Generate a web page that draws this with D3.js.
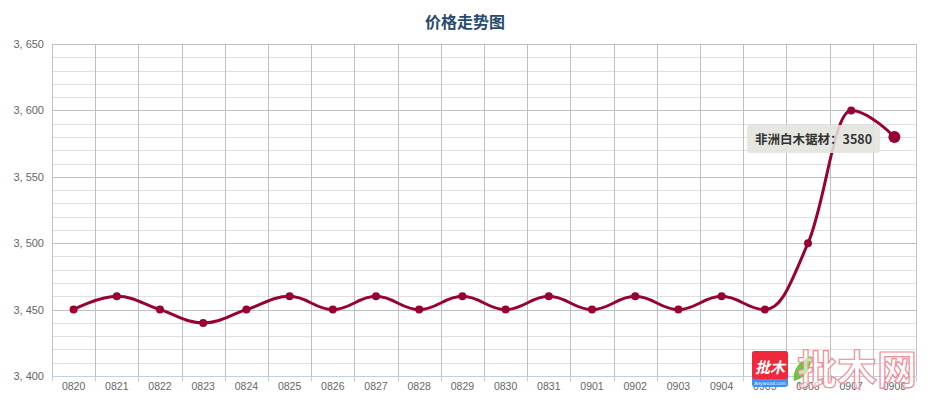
<!DOCTYPE html>
<html>
<head>
<meta charset="utf-8">
<script src="https://cdn.jsdelivr.net/npm/d3@7"></script>
<style>
html,body{margin:0;padding:0;background:#fff;}
svg{display:block;}
</style>
</head>
<body>
<div id="chart"></div>
<script>
const title = "价格走势图";
const seriesName = "非洲白木锯材";
const categories = ["0820","0821","0822","0823","0824","0825","0826","0827","0828","0829","0830","0831","0901","0902","0903","0904","0905","0906","0907","0908"];
const prices = [3450,3460,3450,3440,3450,3460,3450,3460,3450,3460,3450,3460,3450,3460,3450,3460,3450,3500,3600,3580];
const yTicks = [3400,3450,3500,3550,3600,3650];
const yMinorTicks = d3.range(3400,3651,10);
const hoverIndex = 19;

const W = 939, H = 403;
const margin = {left:52, right:23, top:44, bottom:27};
const svg = d3.select("#chart").append("svg").attr("width",W).attr("height",H);

const x = d3.scaleBand().domain(categories).range([margin.left, W - margin.right]);
const y = d3.scaleLinear().domain([3400,3650]).range([H - margin.bottom, margin.top]);

// title
svg.append("text").attr("x", 465).attr("y", 28).attr("text-anchor","middle")
  .attr("font-family","'Noto Sans CJK SC', sans-serif").attr("font-weight","bold")
  .attr("font-size",16).attr("fill","#274b6d").text(title);

// minor horizontal grid
svg.append("g").selectAll("line").data(yMinorTicks.filter(v=>v%50!==0)).join("line")
  .attr("x1", margin.left).attr("x2", W-margin.right)
  .attr("y1", d=>Math.round(y(d))+0.5).attr("y2", d=>Math.round(y(d))+0.5)
  .attr("stroke","#e0e0e0").attr("stroke-width",1);
// major horizontal grid
svg.append("g").selectAll("line").data(yTicks.filter(v=>v!==3400)).join("line")
  .attr("x1", margin.left).attr("x2", W-margin.right)
  .attr("y1", d=>Math.round(y(d))+0.5).attr("y2", d=>Math.round(y(d))+0.5)
  .attr("stroke","#c0c0c0").attr("stroke-width",1);
// vertical grid
const vlines = categories.map(c=>x(c)).concat([W-margin.right]);
svg.append("g").selectAll("line").data(vlines).join("line")
  .attr("x1", d=>Math.round(d)+0.5).attr("x2", d=>Math.round(d)+0.5)
  .attr("y1", margin.top).attr("y2", H-margin.bottom)
  .attr("stroke","#c0c0c0").attr("stroke-width",1);

// x axis line and ticks
const xAxisY = Math.round(y(3400))+0.5;
svg.append("line").attr("x1",margin.left).attr("x2",W-margin.right)
  .attr("y1",xAxisY).attr("y2",xAxisY).attr("stroke","#c0d0e0").attr("stroke-width",1);
svg.append("g").selectAll("line").data(vlines).join("line")
  .attr("x1", d=>Math.round(d)+0.5).attr("x2", d=>Math.round(d)+0.5)
  .attr("y1", xAxisY).attr("y2", xAxisY+5)
  .attr("stroke","#c0d0e0").attr("stroke-width",1);

// x labels
svg.append("g").selectAll("text").data(categories).join("text")
  .attr("x", d=>x(d)+x.bandwidth()/2).attr("y", 390)
  .attr("text-anchor","middle").attr("font-family","'Liberation Sans', Arial, sans-serif")
  .attr("font-size",10.5).attr("fill","#666").text(d=>d);

// y labels
const fmt = d3.format(",");
svg.append("g").selectAll("text").data(yTicks).join("text")
  .attr("x", 44).attr("y", d=>y(d)+4)
  .attr("text-anchor","end").attr("font-family","'Liberation Sans', Arial, sans-serif")
  .attr("font-size",11).attr("fill","#666").text(d=>fmt(d).replace(",", ", "));

// Highcharts-like spline curve
function HCSpline(context){ this._context = context; }
HCSpline.prototype = {
  areaStart(){ this._line = 0; }, areaEnd(){ this._line = NaN; },
  lineStart(){ this._pts = []; },
  point(px,py){ this._pts.push({x:+px,y:+py}); },
  lineEnd(){
    const pts = this._pts, ctx = this._context, s = 1.5, den = s+1;
    for(let i=0;i<pts.length;i++){
      const p = pts[i], last = pts[i-1], next = pts[i+1];
      let lcx, lcy, rcx, rcy;
      if(last && next){
        lcx = (s*p.x + last.x)/den; lcy = (s*p.y + last.y)/den;
        rcx = (s*p.x + next.x)/den; rcy = (s*p.y + next.y)/den;
        if(rcx !== lcx){
          const corr = ((rcy-lcy)*(rcx-p.x))/(rcx-lcx) + p.y - rcy;
          lcy += corr; rcy += corr;
        }
        if(lcy > last.y && lcy > p.y){ lcy = Math.max(last.y,p.y); rcy = 2*p.y - lcy; }
        else if(lcy < last.y && lcy < p.y){ lcy = Math.min(last.y,p.y); rcy = 2*p.y - lcy; }
        if(rcy > next.y && rcy > p.y){ rcy = Math.max(next.y,p.y); lcy = 2*p.y - rcy; }
        else if(rcy < next.y && rcy < p.y){ rcy = Math.min(next.y,p.y); lcy = 2*p.y - rcy; }
        p.rcx = rcx; p.rcy = rcy;
      }
      if(i===0){ ctx.moveTo(p.x,p.y); }
      else {
        ctx.bezierCurveTo(
          last.rcx !== undefined ? last.rcx : last.x,
          last.rcy !== undefined ? last.rcy : last.y,
          lcx !== undefined ? lcx : p.x,
          lcy !== undefined ? lcy : p.y,
          p.x, p.y);
      }
    }
  }
};
const hcSpline = ctx => new HCSpline(ctx);

const data = categories.map((c,i)=>({c, v:prices[i]}));
const line = d3.line().x(d=>x(d.c)+x.bandwidth()/2).y(d=>y(d.v)).curve(hcSpline);
const color = "#990033";
svg.append("path").datum(data).attr("d", line)
  .attr("fill","none").attr("stroke",color).attr("stroke-width",3)
  .attr("stroke-linejoin","round").attr("stroke-linecap","round");

svg.append("g").selectAll("circle").data(data).join("circle")
  .attr("cx", d=>x(d.c)+x.bandwidth()/2).attr("cy", d=>y(d.v))
  .attr("r", (d,i)=> i===hoverIndex ? 6 : 4).attr("fill",color);

// watermark
const wm = svg.append("g");
wm.append("rect").attr("x",752).attr("y",351).attr("width",36).attr("height",36).attr("rx",3).attr("fill","#3d8ff0");
wm.append("rect").attr("x",752).attr("y",351).attr("width",36).attr("height",28).attr("rx",3).attr("fill","#f0283c");
wm.append("text").attr("x",770).attr("y",373).attr("text-anchor","middle")
  .attr("font-family","'Noto Sans CJK SC', sans-serif").attr("font-weight","bold").attr("font-style","italic")
  .attr("font-size",15).attr("fill","#fff").text("批木");
wm.append("text").attr("x",770).attr("y",385).attr("text-anchor","middle")
  .attr("font-family","'DejaVu Sans', sans-serif").attr("font-size",4.5).attr("fill","#fff").text("Anywood.com");
wm.append("path").attr("d","M794,381 C792,370 800,360 811,356 C812,368 806,378 794,381 Z").attr("fill","#5cc020").attr("opacity",0.9);
wm.append("text").attr("x",857).attr("y",384).attr("text-anchor","middle")
  .attr("font-family","'Noto Sans CJK SC', sans-serif").attr("font-weight","bold")
  .attr("font-size",40).attr("fill","rgba(255,255,255,0.6)").attr("stroke","#f08c96").attr("stroke-width",1.2)
  .attr("textLength",120).text("批木网");

// tooltip
const tip = svg.append("g");
tip.append("rect").attr("x",747).attr("y",125).attr("width",133).attr("height",28).attr("rx",3)
  .attr("fill","rgba(228,228,222,0.88)");
tip.append("text").attr("x",755).attr("y",144)
  .attr("font-family","'Noto Sans CJK SC', sans-serif").attr("font-weight","bold")
  .attr("font-size",12.5).attr("fill","#333").text(seriesName + "：" + prices[hoverIndex]);
</script>
</body>
</html>
